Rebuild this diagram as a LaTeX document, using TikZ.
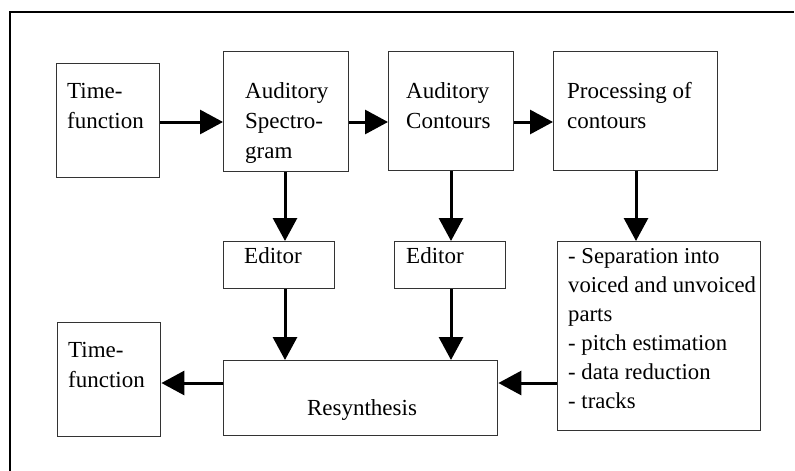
\documentclass[tikz,border=0pt]{standalone}
\usepackage{fontspec}
\setmainfont{Liberation Serif}
\usetikzlibrary{arrows.meta}
\begin{document}
\begin{tikzpicture}[x=1pt,y=-1pt,
  blk/.style={draw=black!80,line width=1.4pt,inner sep=0pt},
  txt/.style={anchor=base west,align=left,inner sep=0pt,font=\fontsize{23}{30}\selectfont},
  arr/.style={line width=3pt,-{Triangle[length=23pt,width=24pt]}},
  frame/.style={line width=2.6pt,black}]
\useasboundingbox (0,0) rectangle (795,471);
% outer frame (right and bottom edges lie outside the picture)
\coordinate (fbl) at (10,471);
\coordinate (ftl) at (10,12);
\coordinate (ftr) at (794,12);
\draw[frame] (fbl) -- (ftl) -- (ftr);
% boxes
\node[blk,minimum width=103pt,minimum height=114pt,anchor=north west] (tf1) at (56,63) {};
\node[blk,minimum width=125pt,minimum height=120pt,anchor=north west] (as) at (223,51) {};
\node[blk,minimum width=125pt,minimum height=119pt,anchor=north west] (ac) at (388,51) {};
\node[blk,minimum width=164pt,minimum height=119pt,anchor=north west] (pc) at (553,51) {};
\node[blk,minimum width=111pt,minimum height=47pt,anchor=north west] (ed1) at (223,241) {};
\node[blk,minimum width=111pt,minimum height=47pt,anchor=north west] (ed2) at (394,241) {};
\node[blk,minimum width=203pt,minimum height=189pt,anchor=north west] (lst) at (557,241) {};
\node[blk,minimum width=274pt,minimum height=75pt,anchor=north west] (res) at (223,360) {};
\node[blk,minimum width=103pt,minimum height=114pt,anchor=north west] (tf2) at (57,322) {};
% texts (base anchor = baseline of the last line)
\node[txt] (tf1t) at (67,128) {Time-\\function};
\node[txt] (ast) at (245,158) {Auditory\\Spectro-\\gram};
\node[txt] (act) at (406,128) {Auditory\\Contours};
\node[txt] (pct) at (567,128) {Processing of\\contours};
\node[txt] (ed1t) at (244,263) {Editor};
\node[txt] (ed2t) at (406,263) {Editor};
\node[txt,font=\fontsize{22.7}{29}\selectfont] (lstt) at (568,408) {- Separation into\\voiced and unvoiced\\parts\\- pitch estimation\\- data reduction\\- tracks};
\node[txt,anchor=base] (rest) at (362,415) {Resynthesis};
\node[txt] (tf2t) at (68,387) {Time-\\function};
% guide coordinates for connector lines
\coordinate (ya) at (0,122);
\coordinate (yb) at (0,383);
\coordinate (xa) at (285,0);
\coordinate (xb) at (451,0);
\coordinate (xc) at (636,0);
% connectors
\draw[arr] (tf1.east |- ya) -- (as.west |- ya);
\draw[arr] (as.east |- ya) -- (ac.west |- ya);
\draw[arr] (ac.east |- ya) -- (pc.west |- ya);
\draw[arr] (as.south -| xa) -- (ed1.north -| xa);
\draw[arr] (ac.south -| xb) -- (ed2.north -| xb);
\draw[arr] (pc.south -| xc) -- (lst.north -| xc);
\draw[arr] (ed1.south -| xa) -- (res.north -| xa);
\draw[arr] (ed2.south -| xb) -- (res.north -| xb);
\draw[arr] (lst.west |- yb) -- (res.east |- yb);
\draw[arr] (res.west |- yb) -- (tf2.east |- yb);
\end{tikzpicture}
\end{document}
